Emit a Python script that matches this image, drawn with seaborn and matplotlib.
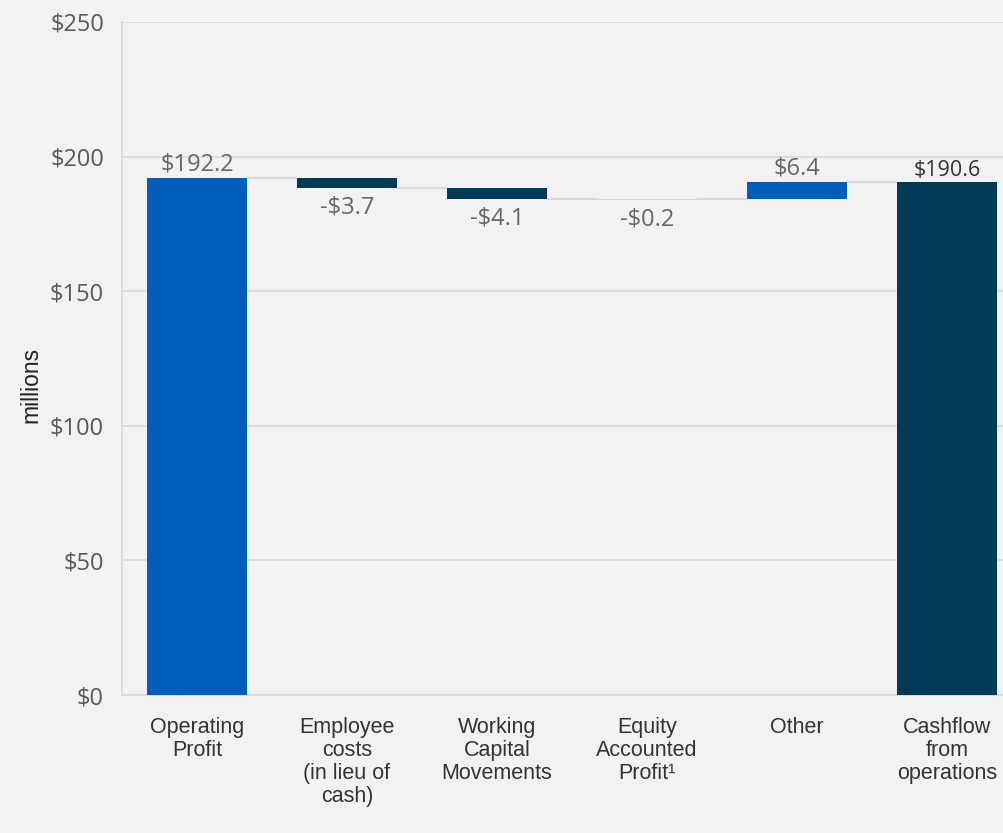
import numpy as np
import pandas as pd
import matplotlib
matplotlib.use("Agg")
import matplotlib.pyplot as plt
import seaborn as sns

# ---- data ----
categories = ["Operating\nProfit", "Employee\ncosts\n(in lieu of\ncash)", "Working\nCapital\nMovements",
              "Equity\nAccounted\nProfit\u00b9", "Other", "Cashflow\nfrom\noperations"]
values = [192.2, -3.7, -4.1, -0.2, 6.4, 190.6]
kinds = ["total", "delta", "delta", "delta", "delta", "total"]
value_labels = ["$192.2", "-$3.7", "-$4.1", "-$0.2", "$6.4", "$190.6"]
y_ticks = [0, 50, 100, 150, 200, 250]
y_tick_labels = ["$0", "$50", "$100", "$150", "$200", "$250"]

BLUE = "#005EB8"
DARK = "#003A57"
BG = "#F2F2F2"
GRID = "#D9D9D9"

# waterfall geometry derived from values
bottoms, heights, ends = [], [], []
running = 0.0
for v, k in zip(values, kinds):
    if k == "total":
        b, h = 0.0, v
        running = v
    else:
        start = running
        running = running + v
        b, h = min(start, running), abs(v)
    bottoms.append(b)
    heights.append(h)
    ends.append(running)

colors = []
for v, k in zip(values, kinds):
    if k == "total":
        colors.append(BLUE if v == values[0] else DARK)
    else:
        colors.append(BLUE if v > 0 else DARK)

df = pd.DataFrame({"cat": categories, "height": heights})

sns.set_theme(style="white")
fig = plt.figure(figsize=(10.04, 8.33), dpi=100, facecolor=BG)
ax = fig.add_axes([122 / 1004, 1 - 695 / 833, 1 - 122 / 1004, (695 - 22) / 833])
ax.set_facecolor(BG)

W = 0.667
sns.barplot(data=df, x="cat", y="height", color=BLUE, width=W, ax=ax,
            saturation=1, zorder=3)
for p, b, c in zip(ax.patches, bottoms, colors):
    p.set_y(b)
    p.set_facecolor(c)
    p.set_edgecolor("none")
# the tiny equity bar renders as a thin line
ax.patches[3].set_edgecolor("#C9D3DA")
ax.patches[3].set_linewidth(0.6)

# connectors
for i in range(len(values) - 1):
    ax.hlines(ends[i], i + W / 2, i + 1 - W / 2, color=GRID, lw=1.5, zorder=2)

ax.set_ylim(0, 250)
ax.set_xlim(-0.5, (1004 - 197) / 150)
ax.set_yticks(y_ticks)
ax.set_yticklabels(y_tick_labels, fontfamily="Open Sans", fontsize=17, color="#595959")
ax.yaxis.grid(True, color=GRID, lw=1.2, zorder=0)
ax.set_axisbelow(True)
ax.tick_params(axis="y", length=0, pad=13)
ax.tick_params(axis="x", length=0, pad=16)
for lab in ax.get_xticklabels():
    lab.set_fontfamily(["Liberation Sans Narrow", "Liberation Sans", "DejaVu Sans"])
    lab.set_fontsize(15.5)
    lab.set_color("#333333")
    lab.set_linespacing(1.12)
    lab.set_verticalalignment("top")

for s in ["top", "right"]:
    ax.spines[s].set_visible(False)
ax.spines["left"].set_color(GRID)
ax.spines["left"].set_linewidth(1.2)
ax.spines["bottom"].set_color(GRID)
ax.spines["bottom"].set_linewidth(1.2)

ax.set_xlabel("")
ax.set_ylabel("millions")
ylab = ax.yaxis.label
ylab.set_fontfamily(["Liberation Sans Narrow", "Liberation Sans"])
ylab.set_fontsize(16.5)
ylab.set_color("#222222")
ax.yaxis.set_label_coords(-0.09, 0.46)

# value labels
for i, (v, b, h, lab) in enumerate(zip(values, bottoms, heights, value_labels)):
    last = i == len(values) - 1
    col = "#333333" if last else "#666666"
    fs = 15.5 if last else 17
    if v >= 0:
        ax.annotate(lab, (i, b + h), xytext=(0, 1), textcoords="offset points",
                    ha="center", va="bottom", fontsize=fs, color=col, fontfamily="Open Sans")
    else:
        ax.annotate(lab, (i, b), xytext=(0, -6), textcoords="offset points",
                    ha="center", va="top", fontsize=fs, color=col, fontfamily="Open Sans")

fig.savefig("out.png", dpi=100, facecolor=BG)
